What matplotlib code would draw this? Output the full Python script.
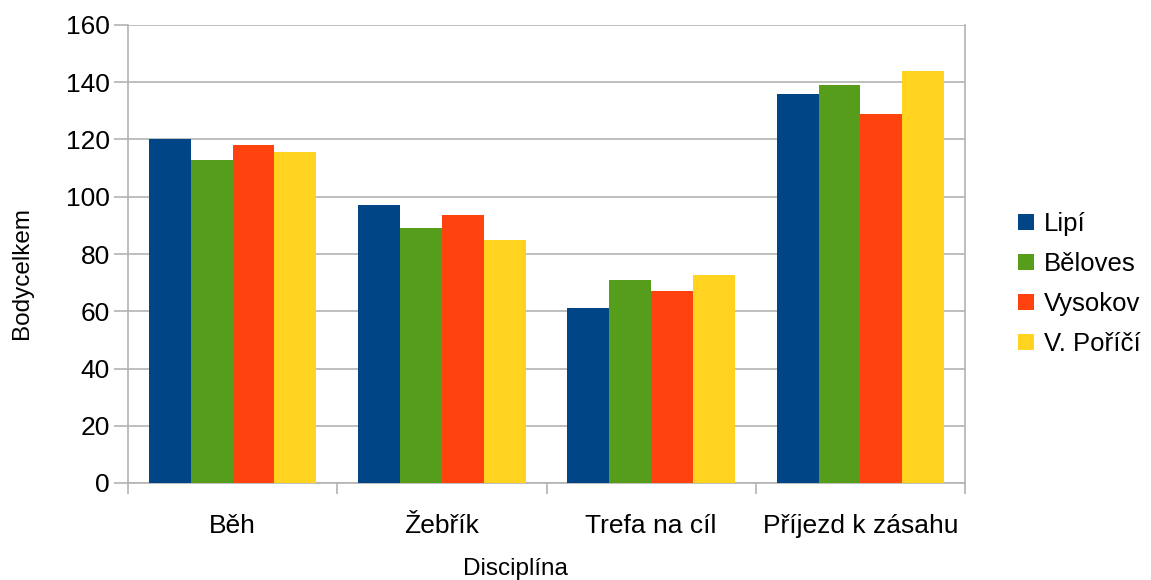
import matplotlib
matplotlib.use("Agg")
import matplotlib.pyplot as plt
import numpy as np

categories = ["Běh", "Žebřík", "Trefa na cíl", "Příjezd k zásahu"]
series_names = ["Lipí", "Běloves", "Vysokov", "V. Poříčí"]
lipi = [120, 97, 61, 136]
belove = [113, 89, 71, 139]
vysokov = [118, 93.5, 67, 129]
porici = [115.5, 85, 72.5, 144]
series = [lipi, belove, vysokov, porici]
colors = ["#004586", "#579D1C", "#FF420E", "#FFD320"]
yticks = [0, 20, 40, 60, 80, 100, 120, 140, 160]

plt.rcParams['font.family'] = ['Liberation Sans', 'DejaVu Sans']

W, H = 1151, 580
fig = plt.figure(figsize=(W / 100, H / 100), dpi=100)
ax = fig.add_axes([128 / W, 1 - 483 / H, (965 - 128) / W, (483 - 25) / H])

x = np.arange(len(categories))
bw = 0.2
for i, (name, vals, c) in enumerate(zip(series_names, series, colors)):
    ax.bar(x + (i - 1.5) * bw, vals, width=bw, color=c, label=name, zorder=3)

ax.set_xlim(-0.5, len(categories) - 0.5)
ax.set_ylim(0, 160)
ax.set_yticks(yticks)
ax.set_yticklabels([str(v) for v in yticks], fontsize=19)
ax.yaxis.grid(True, color="#b3b3b3", linewidth=1.2, zorder=0)
ax.set_axisbelow(True)

ax.set_xticks(x)
ax.set_xticklabels(categories, fontsize=19)
ax.tick_params(axis='x', length=0, pad=22)
ax.set_xticks(np.arange(-0.5, len(categories), 1), minor=True)
ax.tick_params(axis='x', which='minor', length=8, color="#b3b3b3", width=1.2)
ax.tick_params(axis='y', length=10, color="#b3b3b3", width=1.2, pad=3)

ax.spines["top"].set_visible(False)
for side in ["left", "right", "bottom"]:
    ax.spines[side].set_color("#b3b3b3")
    ax.spines[side].set_linewidth(1.2)

fig.text(22 / W, 1 - 273 / H, "Bodycelkem", rotation=90, ha="center", va="center", fontsize=17.5)
fig.text(515 / W, 1 - 569 / H, "Disciplína", ha="center", va="center", fontsize=17.5)

leg = fig.legend(loc="center left", bbox_to_anchor=(1018 / W, 1 - 284 / H), frameon=False,
                 fontsize=18.5, handlelength=0.62, handleheight=0.62, handletextpad=0.4,
                 labelspacing=0.62, borderaxespad=0, borderpad=0)

fig.savefig("out.png", dpi=100)
